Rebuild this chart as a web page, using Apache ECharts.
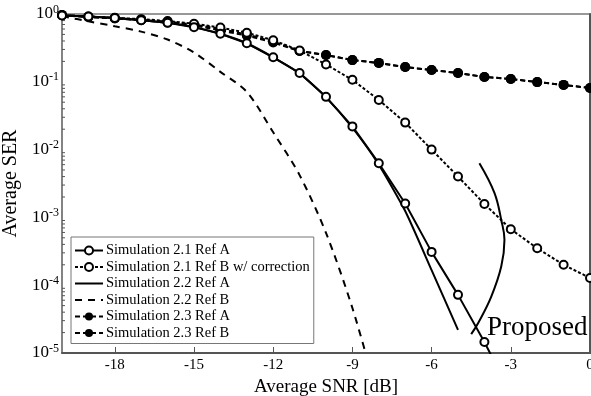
<!DOCTYPE html>
<html>
<head>
<meta charset="utf-8">
<script src="https://cdn.jsdelivr.net/npm/echarts@6/dist/echarts.min.js"></script>
<style>
  html, body { margin: 0; padding: 0; background: #fff; width: 100%; height: 100%; overflow: hidden; }
  #chart { width: 100%; height: 100%; }
</style>
</head>
<body>
<div id="chart"></div>
<script>
// SNR grid in dB
const snr = [-20, -19, -18, -17, -16, -15, -14, -13, -12, -11, -10, -9, -8, -7, -6, -5, -4, -3, -2, -1, 0];

const sim21RefA = [0.95, 0.92, 0.87, 0.81, 0.74, 0.64, 0.51, 0.37, 0.23, 0.135, 0.06, 0.022, 0.0063, 0.0016, 3.1e-4, 7.2e-5, 1.45e-5, 2.5e-6];
const sim21RefB = [0.96, 0.92, 0.88, 0.84, 0.79, 0.72, 0.63, 0.53, 0.41, 0.29, 0.18, 0.107, 0.054, 0.025, 0.010, 0.004, 1.58e-3, 6.7e-4, 3.5e-4, 2.0e-4, 1.28e-4];
const sim22RefA = [0.95, 0.92, 0.87, 0.81, 0.74, 0.64, 0.51, 0.37, 0.23, 0.133, 0.059, 0.021, 0.006, 1.24e-3, 1.67e-4, 2.2e-5];
const sim22RefB = [0.93, 0.78, 0.66, 0.55, 0.42, 0.27, 0.14, 0.071, 0.018, 0.0042, 5.9e-4, 4.6e-5, 2e-6];
const sim23RefA = [0.97, 0.91, 0.87, 0.82, 0.77, 0.7, 0.6, 0.5, 0.39, 0.285, 0.248, 0.209, 0.19, 0.165, 0.149, 0.135, 0.118, 0.11, 0.099, 0.09, 0.081];
const sim23RefB = [0.96, 0.9, 0.86, 0.81, 0.75, 0.68, 0.57, 0.48, 0.38, 0.284, 0.248, 0.209, 0.19, 0.165, 0.149, 0.135, 0.118, 0.11, 0.099, 0.09, 0.081];

// hand drawn "Proposed" arc, in data coordinates
const arcSnr = [-4.19, -3.62, -3.36, -3.24, -3.36, -3.74, -4.23, -4.5];
const arcSer = [6.3e-3, 2.3e-3, 9.1e-4, 4.7e-4, 1.9e-4, 6.8e-5, 2.8e-5, 1.9e-5];

const xTicks = [-18, -15, -12, -9, -6, -3, 0];
const decades = [1e-5, 1e-4, 1e-3, 1e-2, 1e-1];
const minorMult = [2, 3, 4, 5, 6, 7, 8, 9];

const pair = (xs, ys) => ys.map((y, i) => [xs[i], y]);

const minorTicks = [];
decades.forEach(d => minorMult.forEach(m => minorTicks.push([-20, d * m])));

const serif = "'Liberation Serif', 'DejaVu Serif', serif";

const chart = echarts.init(document.getElementById("chart"));

// legend entries; the 2.2 curves have no marker
const noMarker = { opacity: 0 };

const option = {
  backgroundColor: "#fff",
  animation: false,
  grid: {
    left: 62, right: 1, top: 14, bottom: 43,
    outerBoundsMode: "none",
    show: true, borderColor: "#333", borderWidth: 1.2,
  },
  legend: {
    orient: "vertical",
    left: 71,
    top: 237,
    padding: [6, 4, 3, 3],
    itemWidth: 28,
    itemHeight: 10,
    itemGap: 1.5,
    backgroundColor: "#fff",
    borderColor: "#777",
    borderWidth: 1,
    textStyle: { fontFamily: serif, fontSize: 14.5, lineHeight: 13, color: "#000", padding: [0, 0, 0, -2] },
    data: [
      { name: "Simulation 2.1 Ref A" },
      { name: "Simulation 2.1 Ref B w/ correction" },
      { name: "Simulation 2.2 Ref A", itemStyle: noMarker },
      { name: "Simulation 2.2 Ref B", itemStyle: noMarker },
      { name: "Simulation 2.3 Ref A" },
      { name: "Simulation 2.3 Ref B" },
    ],
  },
  xAxis: {
    type: "value",
    min: -20,
    max: 0,
    name: "Average SNR [dB]",
    nameLocation: "middle",
    nameGap: 17,
    nameTextStyle: { fontFamily: serif, fontSize: 19, color: "#000" },
    axisLine: { lineStyle: { color: "#555", width: 2 } },
    axisTick: { inside: true, length: 6, customValues: xTicks, lineStyle: { color: "#555" } },
    axisLabel: { customValues: xTicks, fontFamily: serif, fontSize: 15, color: "#000", margin: 5 },
    splitLine: { show: false },
  },
  yAxis: {
    type: "log",
    logBase: 10,
    min: 1e-5,
    max: 1,
    splitNumber: 5,
    name: "Average SER",
    nameLocation: "middle",
    nameGap: 32,
    nameTextStyle: { fontFamily: serif, fontSize: 20, color: "#000" },
    axisLine: { lineStyle: { color: "#555", width: 2 } },
    axisTick: { inside: true, length: 6, lineStyle: { color: "#555" } },
    axisLabel: {
      margin: 3,
      formatter: v => "{b|10}{s|" + Math.round(Math.log10(v)) + "}",
      rich: {
        b: { fontFamily: serif, fontSize: 17, color: "#000" },
        s: { fontFamily: serif, fontSize: 12, color: "#000", padding: [0, 0, 9, 0] },
      },
    },
    splitLine: { show: false },
  },
  series: [
    {
      name: "Simulation 2.1 Ref A",
      type: "line",
      data: pair(snr, sim21RefA),
      symbol: "emptyCircle",
      symbolSize: 8,
      lineStyle: { color: "#000", width: 2 },
      itemStyle: { color: "#000", borderWidth: 1.8 },
      z: 5,
    },
    {
      name: "Simulation 2.1 Ref B w/ correction",
      type: "line",
      data: pair(snr, sim21RefB),
      symbol: "emptyCircle",
      symbolSize: 8,
      lineStyle: { color: "#000", width: 2, type: [3, 2] },
      itemStyle: { color: "#000", borderWidth: 1.8 },
      z: 4,
    },
    {
      name: "Simulation 2.2 Ref A",
      type: "line",
      data: pair(snr, sim22RefA),
      symbol: "none",
      smooth: 0.2,
      lineStyle: { color: "#000", width: 2 },
      itemStyle: { color: "#000" },
    },
    {
      name: "Simulation 2.2 Ref B",
      type: "line",
      data: pair(snr, sim22RefB),
      symbol: "none",
      smooth: 0.3,
      lineStyle: { color: "#000", width: 2, type: [7, 6] },
      itemStyle: { color: "#000" },
    },
    {
      name: "Simulation 2.3 Ref A",
      type: "line",
      data: pair(snr, sim23RefA),
      symbol: "circle",
      symbolSize: 10,
      lineStyle: { color: "#000", width: 2, type: [5, 3] },
      itemStyle: { color: "#000" },
      z: 3,
    },
    {
      name: "Simulation 2.3 Ref B",
      type: "line",
      data: pair(snr, sim23RefB),
      symbol: "circle",
      symbolSize: 10,
      lineStyle: { color: "#000", width: 2, type: [5, 3] },
      itemStyle: { color: "#000" },
      z: 3,
    },
    {
      name: "arc",
      type: "line",
      data: pair(arcSnr, arcSer),
      symbol: "none",
      smooth: 0.4,
      lineStyle: { color: "#000", width: 2 },
      silent: true,
    },
    {
      // log-spaced minor ticks on the y axis
      name: "minor",
      type: "custom",
      data: minorTicks,
      silent: true,
      renderItem: (params, api) => {
        const p = api.coord([api.value(0), api.value(1)]);
        return {
          type: "line",
          shape: { x1: p[0], y1: p[1], x2: p[0] + 3, y2: p[1] },
          style: { stroke: "#555", lineWidth: 1 },
        };
      },
    },
  ],
  graphic: [
    {
      type: "text",
      left: 487,
      top: 314,
      style: { text: "Proposed", fontFamily: serif, fontSize: 27, fill: "#000" },
    },
  ],
};

chart.setOption(option);
window.addEventListener("resize", () => chart.resize());
</script>
</body>
</html>
